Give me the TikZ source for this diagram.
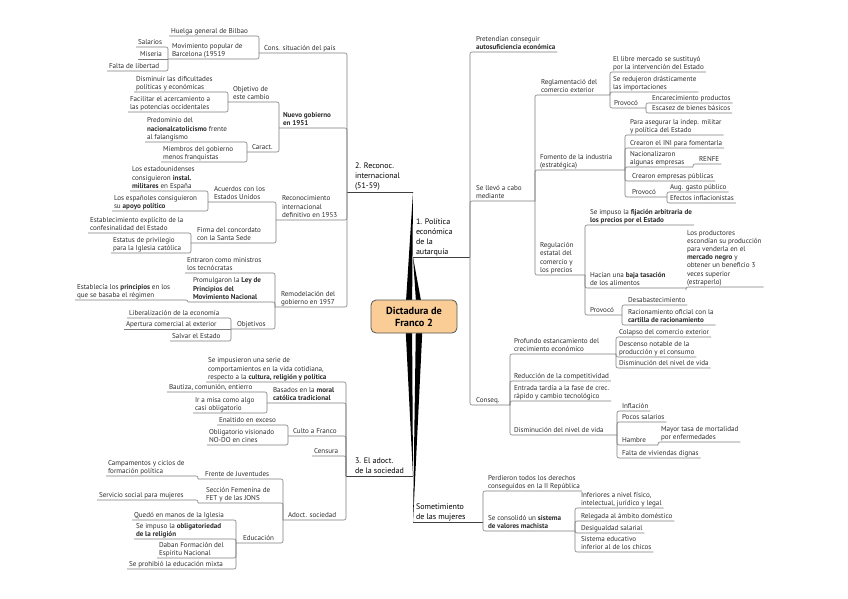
\documentclass[tikz,border=0pt]{standalone}
\usepackage{fontspec}
\setmainfont{PT Sans}
\usepackage{tikz}
\usetikzlibrary{positioning, calc}
\definecolor{linegray}{RGB}{125, 125, 125}
\definecolor{inkgray}{RGB}{45, 45, 45}
\definecolor{peach}{RGB}{250, 205, 150}
\definecolor{hubborder}{RGB}{85, 85, 85}

\tikzset{
  topic/.style={anchor=south west, align=left, inner xsep=1.8pt, inner ysep=1.1pt,
    font=\fontsize{7.1}{8.1}\selectfont, text=inkgray, execute at end node={\vphantom{gy}}},
  maintopic/.style={topic, font=\fontsize{8}{10}\selectfont, text=black},
  conn/.style={draw=linegray, line width=0.6pt, rounded corners=2pt},
  hub/.style={draw=hubborder, fill=peach, rounded corners=5pt, line width=0.8pt,
    minimum width=86pt, minimum height=33pt, align=center,
    font=\fontsize{10.3}{12}\selectfont\bfseries},
  taper/.style={fill=black}
}

\begin{document}
\begin{tikzpicture}[x=1pt, y=-1pt]
  \useasboundingbox (0,0) rectangle (848,599);

  % main topics
  \coordinate (r2) at (413,192); \coordinate (j2) at (347,192);
  \node[maintopic] (reconoc) at (353,192) {2. Reconoc.\\internacional\\(51-59)};
  \coordinate (l1) at (413,257); \coordinate (j1) at (470,257);
  \node[maintopic] (autarq) at (414,257) {1. Política\\económica\\de la\\autarquía};
  \coordinate (r3) at (413,476); \coordinate (j3) at (346,476);
  \node[maintopic] (adoctr) at (353,476) {3. El adoct.\\de la sociedad};
  \coordinate (l4) at (413,522); \coordinate (j4) at (483,522);
  \node[maintopic] (mujeres) at (414,522) {Sometimiento\\de las mujeres};

  \draw[conn, draw=black!75] (j2) -- (r2);
  \draw[conn, draw=black!75] (l1) -- (j1);
  \draw[conn, draw=black!75] (j3) -- (r3);
  \draw[conn, draw=black!75] (l4) -- (j4);

  % tapered branches from the hub
  \fill[taper] (405,317) -- (412,317) -- (r2) -- cycle;
  \fill[taper] (417,317) -- (424,317) -- (l1) -- cycle;
  \fill[taper] (405,317) -- (412,317) -- (r3) -- cycle;
  \fill[taper] (416,317) -- (423,317) -- (l4) -- cycle;
  \node[hub] (hub) at (414,316.5) {Dictadura de\\Franco 2};

  % 2. Reconoc. internacional
  \coordinate (jcons) at (259,53);
  \node[topic] (cons) at (262,53) {Cons. situación del país};
  \node[topic] (huelga) at (169,36) {Huelga general de Bilbao};
  \coordinate (jmov) at (168,59);
  \node[topic] (movim) at (170,59) {Movimiento popular de\\Barcelona (19519};
  \node[topic] (salarios) at (136,47) {Salarios};
  \node[topic] (miseria) at (138,59) {Miseria};
  \node[topic] (falta) at (107,71) {Falta de libertad};

  \coordinate (jnuevo) at (279,128);
  \node[topic] (nuevo) at (281,128) {\textbf{Nuevo gobierno}\\\textbf{en 1951}};
  \coordinate (jobj) at (228,102);
  \node[topic] (objet) at (231,102) {Objetivo de\\este cambio};
  \node[topic] (dismin) at (134,92) {Disminuir las dificultades\\políticas y económicas};
  \node[topic] (facil) at (128,112) {Facilitar el acercamiento a\\las potencias occidentales};
  \coordinate (jcar) at (247,152);
  \node[topic] (caract) at (250,152) {Caract.};
  \node[topic] (predom) at (145,142) {Predominio del\\\textbf{nacionalcatolicismo} frente\\al falangismo};
  \node[topic] (miemb) at (161,162) {Miembros del gobierno\\menos franquistas};

  \coordinate (jrec) at (276,220);
  \node[topic] (recon) at (280,220) {Reconocimiento\\internacional\\definitivo en 1953};
  \coordinate (jacu) at (208,202);
  \node[topic] (acuer) at (212,202) {Acuerdos con los\\Estados Unidos};
  \node[topic] (estad) at (130,191) {Los estadounidenses\\consiguieron \textbf{instal.}\\\textbf{militares} en España};
  \node[topic] (espan) at (112,211) {Los españoles consiguieron\\su \textbf{apoyo político}};
  \coordinate (jfir) at (191,243);
  \node[topic] (firma) at (195,243) {Firma del concordato\\con la Santa Sede};
  \node[topic] (establ) at (88,233) {Establecimiento explícito de la\\confesinalidad del Estado};
  \node[topic] (estat) at (111,253) {Estatus de privilegio\\para la Iglesia católica};

  \coordinate (jrem) at (275,307);
  \node[topic] (remod) at (279,307) {Remodelación del\\gobierno en 1957};
  \node[topic] (entra) at (185,273) {Entraron como ministros\\los tecnócratas};
  \coordinate (jpro) at (188,302);
  \node[topic] (promu) at (191,302) {Promulgaron la \textbf{Ley de}\\\textbf{Principios del}\\\textbf{Movimiento Nacional}};
  \node[topic] (princ) at (75,300) {Establecía los \textbf{principios} en los\\que se basaba el régimen};
  \coordinate (jobv) at (231,329);
  \node[topic] (objv) at (235,329) {Objetivos};
  \node[topic] (liber) at (127,318) {Liberalización de la economía};
  \node[topic] (apert) at (124,329) {Apertura comercial al exterior};
  \node[topic] (salvar) at (170,341) {Salvar el Estado};

  \foreach \a/\b in {jcons/j2, jnuevo/j2, jrec/j2, jrem/j2, huelga.south west/jcons, jmov/jcons,
      salarios.south west/jmov, falta.south west/jmov, jobj/jnuevo, jcar/jnuevo,
      dismin.south west/jobj, facil.south west/jobj, predom.south west/jcar, miemb.south west/jcar,
      jacu/jrec, jfir/jrec, estad.south west/jacu, espan.south west/jacu,
      establ.south west/jfir, estat.south west/jfir, entra.south west/jrem, jpro/jrem, jobv/jrem,
      princ.south west/jpro, liber.south west/jobv, salvar.south west/jobv}
    \draw[conn] (\a) -| (\b);
  \draw[conn] (miseria.south west) -- (jmov);
  \draw[conn] (apert.south west) -- (jobv);

  % 3. El adoct. de la sociedad
  \node[topic] (seimp) at (206,382) {Se impusieron una serie de\\comportamientos en la vida cotidiana,\\respecto a la \textbf{cultura, religión y política}};
  \coordinate (jbas) at (267,403);
  \node[topic] (basad) at (271,403) {Basados en la \textbf{moral}\\\textbf{católica tradicional}};
  \node[topic] (bauti) at (167,392) {Bautiza, comunión, entierro};
  \node[topic] (misa) at (193,413) {Ir a misa como algo\\casi obligatorio};
  \coordinate (jcul) at (288,436);
  \node[topic] (culto) at (291,436) {Culto a Franco};
  \node[topic] (enalt) at (217,425) {Enaltido en exceso};
  \node[topic] (nodo) at (207,445) {Obligatorio visionado\\NO-DO en cines};
  \node[topic] (censu) at (312,456) {Censura};
  \coordinate (jado) at (283,520);
  \node[topic] (adoct) at (286,520) {Adoct. sociedad};
  \coordinate (jfre) at (198,479);
  \node[topic] (frente) at (203,479) {Frente de Juventudes};
  \node[topic] (campa) at (106,476) {Campamentos y ciclos de\\formación política};
  \coordinate (jsec) at (198,503);
  \node[topic] (secci) at (204,503) {Sección Femenina de\\FET y de las JONS};
  \node[topic] (servi) at (97,500) {Servicio social para mujeres};
  \coordinate (jedu) at (236,543);
  \node[topic] (educa) at (241,543) {Educación};
  \node[topic] (qued) at (132,520) {Quedó en manos de la Iglesia};
  \node[topic] (oblig) at (134,539) {Se impuso la \textbf{obligatoriedad}\\\textbf{de la religión}};
  \node[topic] (daban) at (157,558) {Daban Formación del\\Espíritu Nacional};
  \node[topic] (prohib) at (127,569) {Se prohibió la educación mixta};

  \foreach \a/\b in {seimp.south west/j3, jbas/j3, jcul/j3, censu.south west/j3, jado/j3,
      bauti.south west/jbas, misa.south west/jbas, enalt.south west/jcul, nodo.south west/jcul,
      jfre/jado, jsec/jado, jedu/jado, campa.south west/jfre, servi.south west/jsec,
      qued.south west/jedu, oblig.south west/jedu, daban.south west/jedu, prohib.south west/jedu}
    \draw[conn] (\a) -| (\b);

  % 1. Politica economica de la autarquia
  \node[topic] (pret) at (474,52) {Pretendían conseguir\\\textbf{autosuficiencia económica}};
  \coordinate (jlle) at (535,201);
  \node[topic] (llevo) at (474,201) {Se llevó a cabo\\mediante};
  \coordinate (jreg) at (610,95);
  \node[topic] (regla) at (539,95) {Reglamentació del\\comercio exterior};
  \node[topic] (libre) at (611,72) {El libre mercado se sustituyó\\por la intervención del Estado};
  \node[topic] (redu) at (611,92) {Se redujeron drásticamente\\las importaciones};
  \coordinate (jpr1) at (646,108);
  \node[topic] (prov1) at (612,108) {Provocó};
  \node[topic] (encar) at (650,103) {Encarecimiento productos};
  \node[topic] (escas) at (650,113) {Escasez de bienes básicos};
  \coordinate (jfom) at (625,170);
  \node[topic] (foment) at (538,170) {Fomento de la industria\\(estratégica)};
  \node[topic] (asegu) at (628,135) {Para asegurar la indep. militar\\y política del Estado};
  \node[topic] (ini) at (628,148) {Crearon el INI para fomentarla};
  \coordinate (jnac) at (693,167);
  \node[topic] (nacio) at (628,167) {Nacionalizaron\\algunas empresas};
  \node[topic] (renfe) at (697,164) {RENFE};
  \node[topic] (empre) at (630,181) {Crearon empresas públicas};
  \coordinate (jpr2) at (667,197);
  \node[topic] (prov2) at (630,197) {Provocó};
  \node[topic] (gasto) at (668,192) {Aug. gasto público};
  \node[topic] (infla) at (668,203) {Efectos inflacionistas};
  \coordinate (jrgl) at (585,275);
  \node[topic] (regul) at (538,275) {Regulación\\estatal del\\comercio y\\los precios};
  \node[topic] (fija) at (588,225) {Se impuso la \textbf{fijación arbitraria de}\\\textbf{los precios por el Estado}};
  \coordinate (jtas) at (686,288);
  \node[topic] (tasa) at (588,288) {Hacían una \textbf{baja tasación}\\de los alimentos};
  \node[topic] (produ) at (685,287) {Los productores\\escondían su producción\\para venderla en el\\\textbf{mercado negro} y\\obtener un beneficio 3\\veces superior\\(estraperlo)};
  \coordinate (jpr3) at (622,315);
  \node[topic] (prov3) at (588,315) {Provocó};
  \node[topic] (desab) at (626,305) {Desabastecimiento};
  \node[topic] (racio) at (626,325) {Racionamiento oficial con la\\\textbf{cartilla de racionamiento}};
  \coordinate (jcon) at (510,405);
  \node[topic] (conseq) at (474,405) {Conseq.};
  \coordinate (jprf) at (616,354);
  \node[topic] (profu) at (512,354) {Profundo estancamiento del\\crecimiento económico};
  \node[topic] (colap) at (617,337) {Colapso del comercio exterior};
  \node[topic] (desce) at (617,357) {Descenso notable de la\\producción y el consumo};
  \node[topic] (dism1) at (617,368) {Disminución del nivel de vida};
  \node[topic] (reduc) at (512,381) {Reducción de la competitividad};
  \node[topic] (entrad) at (512,401) {Entrada tardía a la fase de crec.\\rápido y cambio tecnológico};
  \coordinate (jdis) at (617,435);
  \node[topic] (dism2) at (512,435) {Disminución del nivel de vida};
  \node[topic] (inflac) at (620,411) {Inflación};
  \node[topic] (pocos) at (620,422) {Pocos salarios};
  \coordinate (jham) at (658,445);
  \node[topic] (hambre) at (620,445) {Hambre};
  \node[topic] (mayor) at (659,442) {Mayor tasa de mortalidad\\por enfermedades};
  \node[topic] (vivie) at (620,458) {Falta de viviendas dignas};

  \foreach \a/\b in {pret.south east/j1, jlle/j1, jcon/j1, jreg/jlle, jfom/jlle, jrgl/jlle,
      libre.south east/jreg, redu.south east/jreg, jpr1/jreg, encar.south east/jpr1, escas.south east/jpr1,
      asegu.south east/jfom, ini.south east/jfom, jnac/jfom, empre.south east/jfom, jpr2/jfom,
      renfe.south east/jnac, gasto.south east/jpr2, infla.south east/jpr2,
      fija.south east/jrgl, jtas/jrgl, jpr3/jrgl, produ.south east/jtas,
      desab.south east/jpr3, racio.south east/jpr3,
      jprf/jcon, reduc.south east/jcon, entrad.south east/jcon, jdis/jcon,
      colap.south east/jprf, desce.south east/jprf, dism1.south east/jprf,
      inflac.south east/jdis, pocos.south east/jdis, jham/jdis, vivie.south east/jdis, mayor.south east/jham}
    \draw[conn] (\a) -| (\b);

  % Sometimiento de las mujeres
  \node[topic] (perdi) at (486,491) {Perdieron todos los derechos\\conseguidos en la II República};
  \coordinate (jcsl) at (575,531);
  \node[topic] (consol) at (486,531) {Se consolidó un \textbf{sistema}\\\textbf{de valores machista}};
  \node[topic] (infer) at (579,508) {Inferiores a nivel físico,\\intelectual, jurídico y legal};
  \node[topic] (releg) at (579,521) {Relegada al ámbito doméstico};
  \node[topic] (desig) at (579,533) {Desigualdad salarial};
  \node[topic] (siste) at (579,552) {Sistema educativo\\inferior al de los chicos};

  \foreach \a/\b in {perdi.south east/j4, jcsl/j4, infer.south east/jcsl, releg.south east/jcsl,
      desig.south east/jcsl, siste.south east/jcsl}
    \draw[conn] (\a) -| (\b);
\end{tikzpicture}
\end{document}
